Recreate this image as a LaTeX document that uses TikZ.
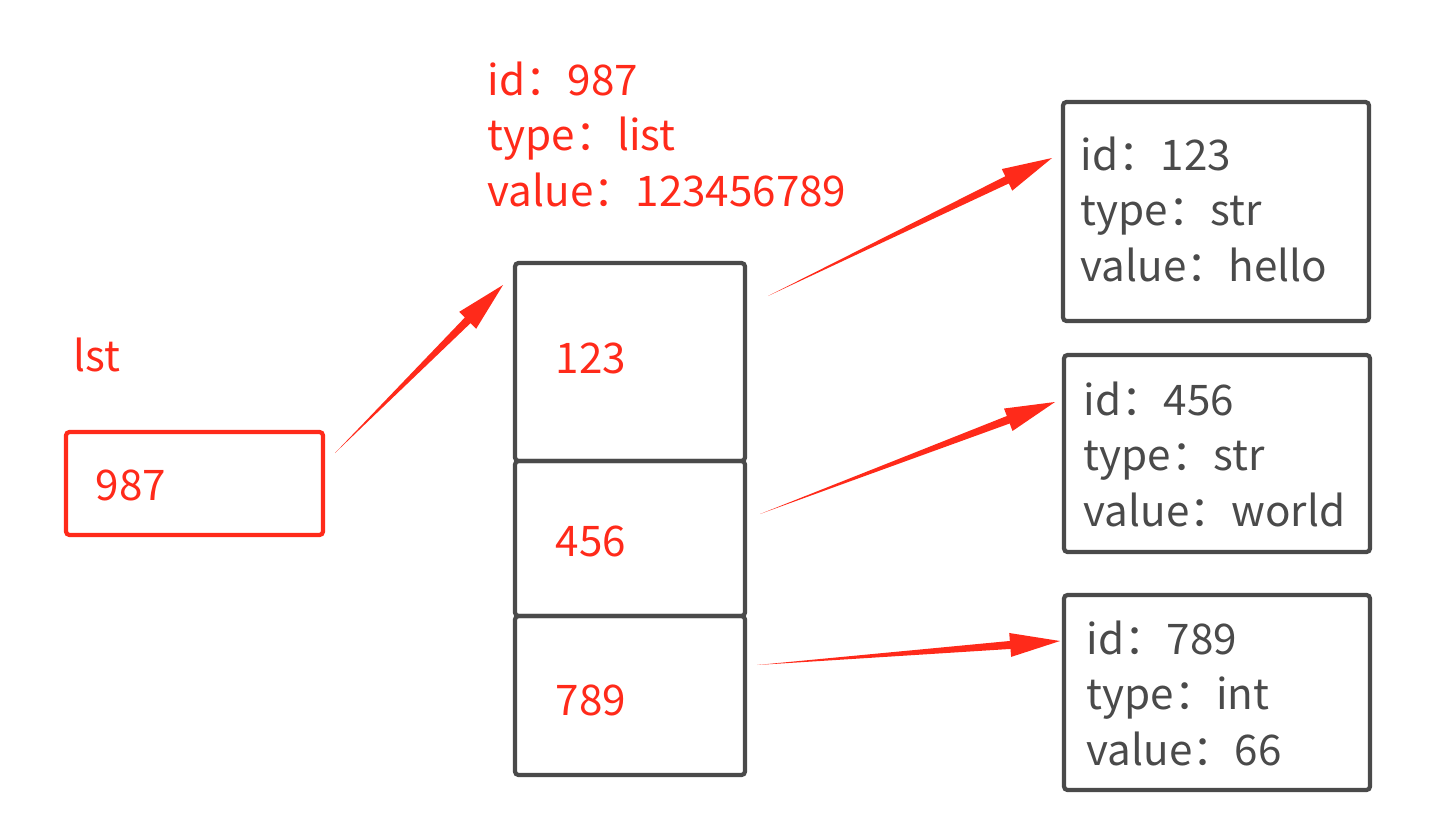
\documentclass[tikz,border=0pt]{standalone}
\usepackage{fontspec}
\setmainfont{Noto Sans CJK SC}
\usetikzlibrary{calc,positioning}
\definecolor{memred}{HTML}{FF2A1A}
\definecolor{memgray}{HTML}{4A4A4A}
\tikzset{
  cell/.style={draw=memgray,line width=1.2pt,rounded corners=1pt,minimum width=2.3cm},
  obj/.style={draw=memgray,line width=1.2pt,rounded corners=1pt,minimum width=3.06cm},
  info/.style={text=memgray,align=left,anchor=north west,inner sep=0pt},
  redtxt/.style={text=memred,align=left,anchor=west,inner sep=0pt},
}
\newcommand\wedgearr[2]{%
  \coordinate (m) at ($(#2)!0.5cm!(#1)$);
  \fill[memred] (#1) -- ($(m)!0.04cm!90:(#2)$) -- ($(m)!0.12cm!90:(#2)$) -- (#2)
    -- ($(m)!0.12cm!-90:(#2)$) -- ($(m)!0.04cm!-90:(#2)$) -- cycle;}
\begin{document}
\begin{tikzpicture}[font=\fontsize{12}{15.8}\selectfont]
  \useasboundingbox (0,0) rectangle (14.52,8.16);
  % variable
  \node[redtxt] (name) at (0.73,4.61) {lst};
  \node[draw=memred,line width=1.2pt,rounded corners=1pt,minimum width=2.57cm,minimum height=1.03cm] (var) at (1.945,3.325) {};
  \node[redtxt] (vart) at (0.95,3.31) {987};
  % list object
  \node[cell,minimum height=1.98cm] (c1) at (6.30,4.54) {};
  \node[cell,minimum height=1.55cm] (c2) at (6.30,2.775) {};
  \node[cell,minimum height=1.59cm] (c3) at (6.30,1.205) {};
  \node[redtxt] at (5.55,4.58) {123};
  \node[redtxt] at (5.55,2.75) {456};
  \node[redtxt] at (5.55,1.16) {789};
  \node[redtxt,anchor=north west] (lhead) at (4.87,7.55) {id：987\\type：list\\value：123456789};
  % element objects
  \node[obj,minimum height=2.19cm] (o1) at (12.16,6.045) {};
  \node[obj,minimum height=1.97cm] (o2) at (12.17,3.625) {};
  \node[obj,minimum height=1.95cm] (o3) at (12.17,1.235) {};
  \node[info] at (10.80,6.80) {id：123\\type：str\\value：hello};
  \node[info] at (10.83,4.35) {id：456\\type：str\\value：world};
  \node[info] at (10.86,1.96) {id：789\\type：int\\value：66};
  % arrows
  \coordinate (a0) at (3.35,3.63); \coordinate (b0) at (5.03,5.31);
  \coordinate (a1) at (7.68,5.20); \coordinate (b1) at (10.52,6.58);
  \coordinate (a2) at (7.60,3.02); \coordinate (b2) at (10.55,4.14);
  \coordinate (a3) at (7.57,1.51); \coordinate (b3) at (10.60,1.75);
  \wedgearr{a0}{b0}
  \wedgearr{a1}{b1}
  \wedgearr{a2}{b2}
  \wedgearr{a3}{b3}
\end{tikzpicture}
\end{document}
